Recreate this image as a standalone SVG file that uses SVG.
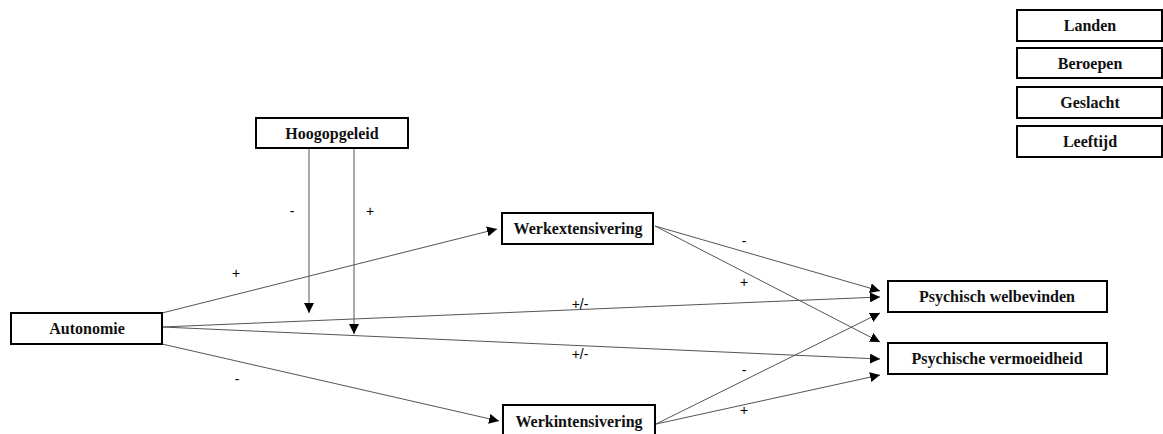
<svg xmlns="http://www.w3.org/2000/svg" width="1163" height="434" viewBox="0 0 1163 434">
<defs>
<marker id="ah" viewBox="0 0 10 10" refX="10" refY="5" markerWidth="10" markerHeight="10" markerUnits="userSpaceOnUse" orient="auto">
<path d="M0,0 L10,5 L0,10 Z" fill="#000"/>
</marker>
<style>
.box{fill:#fff;stroke:#000;stroke-width:2}
.t{font-family:"Liberation Serif",serif;font-weight:bold;font-size:16px;text-anchor:middle;fill:#111}
.c{stroke:#555;stroke-width:1;fill:none;marker-end:url(#ah)}
.l{font-family:"Liberation Sans",sans-serif;font-size:14px;text-anchor:middle;fill:#000}
</style>
</defs>
<rect width="1163" height="434" fill="#fff"/>
<g id="connectors">
<line class="c" x1="162" y1="313" x2="497" y2="229"/>
<line class="c" x1="162" y1="327" x2="880" y2="297"/>
<line class="c" x1="162" y1="327" x2="880" y2="359"/>
<line class="c" x1="162" y1="344" x2="499" y2="421"/>
<line class="c" x1="655" y1="226" x2="880" y2="291"/>
<line class="c" x1="655" y1="226" x2="880" y2="342"/>
<line class="c" x1="656" y1="424" x2="880" y2="313"/>
<line class="c" x1="656" y1="424" x2="880" y2="375"/>
<line class="c" x1="309" y1="148" x2="309" y2="313"/>
<line class="c" x1="354" y1="148" x2="354" y2="334"/>
<text class="l" x="292" y="216">-</text>
<text class="l" x="370" y="216">+</text>
<text class="l" x="236" y="278">+</text>
<text class="l" x="237" y="384">-</text>
<text class="l" x="580" y="309">+/-</text>
<text class="l" x="580" y="359">+/-</text>
<text class="l" x="744" y="246">-</text>
<text class="l" x="744" y="287">+</text>
<text class="l" x="744" y="375">-</text>
<text class="l" x="744" y="415">+</text>
</g>
<g id="landen"><rect class="box" x="1017" y="10" width="145" height="31"/><text class="t" x="1090" y="31">Landen</text></g>
<g id="beroepen"><rect class="box" x="1017" y="48" width="145" height="30"/><text class="t" x="1090" y="69">Beroepen</text></g>
<g id="geslacht"><rect class="box" x="1017" y="87" width="145" height="31"/><text class="t" x="1090" y="108">Geslacht</text></g>
<g id="leeftijd"><rect class="box" x="1017" y="126" width="145" height="31"/><text class="t" x="1090" y="147">Leeftijd</text></g>
<g id="hoogopgeleid"><rect class="box" x="256" y="118" width="152" height="30"/><text class="t" x="332" y="139">Hoogopgeleid</text></g>
<g id="autonomie"><rect class="box" x="11" y="313" width="151" height="31"/><text class="t" x="87" y="334">Autonomie</text></g>
<g id="werkextensivering"><rect class="box" x="502" y="213" width="151" height="31"/><text class="t" x="578" y="234">Werkextensivering</text></g>
<g id="werkintensivering"><rect class="box" x="503" y="405" width="152" height="34"/><text class="t" x="579" y="427">Werkintensivering</text></g>
<g id="psychisch-welbevinden"><rect class="box" x="888" y="281" width="219" height="31"/><text class="t" x="997" y="302">Psychisch welbevinden</text></g>
<g id="psychische-vermoeidheid"><rect class="box" x="888" y="343" width="219" height="31"/><text class="t" x="997" y="364">Psychische vermoeidheid</text></g>
</svg>
